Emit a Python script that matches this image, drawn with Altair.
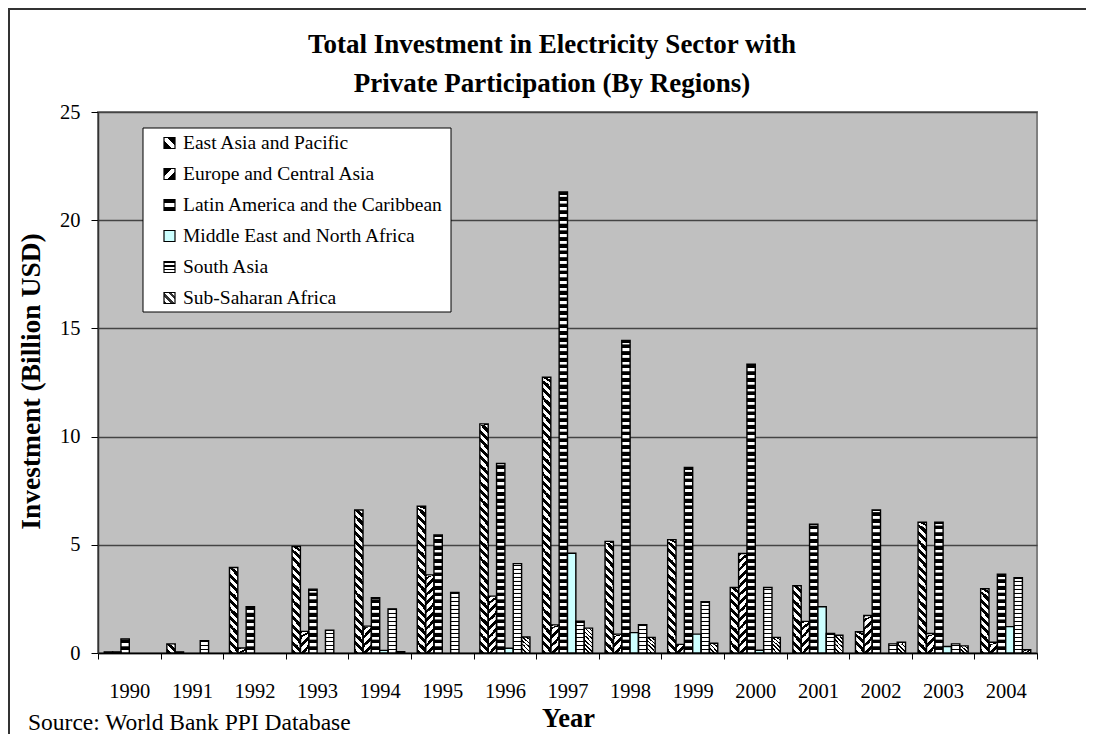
import altair as alt
import pandas as pd

# ---------------- data ----------------
years = [str(y) for y in range(1990, 2005)]
regions = [
    "East Asia and Pacific",
    "Europe and Central Asia",
    "Latin America and the Caribbean",
    "Middle East and North Africa",
    "South Asia",
    "Sub-Saharan Africa",
]
east_asia_pacific = [0.05, 0.42, 3.95, 4.92, 6.61, 6.78, 10.59, 12.74, 5.16, 5.24, 3.03, 3.11, 0.98, 6.04, 2.97]
europe_central_asia = [0.05, 0.05, 0.23, 1.00, 1.24, 3.61, 2.63, 1.30, 0.87, 0.40, 4.60, 1.46, 1.73, 0.90, 0.50]
latin_america_caribbean = [0.65, 0.0, 2.14, 2.95, 2.55, 5.45, 8.76, 21.30, 14.44, 8.57, 13.34, 5.95, 6.61, 6.04, 3.64]
middle_east_north_africa = [0.0, 0.0, 0.0, 0.0, 0.12, 0.0, 0.22, 4.61, 0.94, 0.87, 0.13, 2.14, 0.0, 0.30, 1.22]
south_asia = [0.0, 0.57, 0.0, 1.05, 2.04, 2.80, 4.13, 1.47, 1.31, 2.37, 3.03, 0.90, 0.42, 0.42, 3.48]
sub_saharan_africa = [0.0, 0.0, 0.0, 0.0, 0.06, 0.0, 0.74, 1.15, 0.72, 0.45, 0.72, 0.82, 0.50, 0.33, 0.15]
y_ticks = [0, 5, 10, 15, 20, 25]

title_lines = ["Total Investment in Electricity Sector with", "Private Participation (By Regions)"]
source_note = "Source: World Bank PPI Database"

series = dict(zip(regions, [east_asia_pacific, europe_central_asia, latin_america_caribbean,
                            middle_east_north_africa, south_asia, sub_saharan_africa]))

rows = []
for r in regions:
    for yr, v in zip(years, series[r]):
        rows.append({"year": yr, "region": r, "value": v})
df = pd.DataFrame(rows)
df_nz = df[df["value"] > 0].reset_index(drop=True)

# ---------------- hatch patterns (style) ----------------
FONT = "Liberation Serif"
MENA_FILL = "#CCFFFF"
# repeat height of a hatch tile, in data units
tile = {regions[0]: 0.39, regions[1]: 0.39, regions[2]: 0.31, regions[4]: 0.185, regions[5]: 0.39}


def stripes(n, dark_frac, x1, y1, x2, y2, dark="black", light="white"):
    stops = []
    for i in range(n):
        a = i / n
        b = a + dark_frac / n
        c = (i + 1) / n
        stops += [{"offset": a, "color": dark}, {"offset": b, "color": dark},
                  {"offset": b, "color": light}, {"offset": c, "color": light}]
    return {"gradient": "linear", "x1": x1, "y1": y1, "x2": x2, "y2": y2, "stops": stops}


def band(x1, y1, x2, y2, dark="black", light="white", w=0.35):
    return {"gradient": "linear", "x1": x1, "y1": y1, "x2": x2, "y2": y2,
            "stops": [{"offset": 0, "color": dark}, {"offset": w, "color": dark},
                      {"offset": w, "color": light}, {"offset": 1 - w, "color": light},
                      {"offset": 1 - w, "color": dark}, {"offset": 1, "color": dark}]}


bar_fill = {
    regions[0]: stripes(2, 0.5, 0, 1, 1, 0),          # "\\" wide
    regions[1]: stripes(2, 0.45, 0, 0, 1, 1),         # "//" wide
    regions[2]: stripes(1, 0.6, 0, 0, 0, 1),          # thick horizontal
    regions[4]: stripes(1, 0.4, 0, 0, 0, 1),          # fine horizontal
    regions[5]: stripes(4, 0.4, 0, 1, 1, 0),          # fine "\\"
}
legend_fill = {
    regions[0]: band(0, 1, 1, 0),
    regions[1]: band(0, 0, 1, 1),
    regions[2]: band(0, 0, 0, 1, w=0.33),
    regions[3]: MENA_FILL,
    regions[4]: stripes(3, 0.4, 0, 0, 0, 1),
    regions[5]: stripes(3, 0.45, 0, 1, 1, 0, dark="#333333"),
}

# hatch tiles derived from the values
seg_rows = []
for r, p in tile.items():
    for yr, v in zip(years, series[r]):
        if v <= 0:
            continue
        k = 0
        while k * p < v - 1e-9:
            lo = k * p
            hi = min((k + 1) * p, v)
            hi_draw = min(hi + 0.02, v)
            seg_rows.append({"year": yr, "region": r, "lo": lo, "hi": hi_draw})
            k += 1
seg = pd.DataFrame(seg_rows)

# ---------------- encodings ----------------
x_axis = alt.Axis(
    title="Year", titleFont=FONT, titleFontSize=26.5, titleFontWeight="bold", titleColor="black",
    titleX=470, titleY=73, titleAlign="center", titleBaseline="alphabetic",
    labelAngle=0, labelFont=FONT, labelFontSize=20.5, labelColor="black",
    labelBaseline="alphabetic", labelPadding=38, tickSize=6, tickBand="extent",
    tickColor="black", domainColor="black", domainWidth=1.5, grid=False,
)
y_axis = alt.Axis(
    values=y_ticks, title="Investment (Billion USD)", titleFont=FONT, titleFontSize=27.5,
    titleFontWeight="bold", titleColor="black", titleAngle=270, titleX=-67, titleY=269,
    titleAlign="center", titleBaseline="middle",
    labelFont=FONT, labelFontSize=20.5, labelColor="black", labelPadding=11,
    tickSize=7, tickColor="black", domainColor="#333333", domainWidth=1.5,
    grid=True, gridColor="#444444", gridWidth=1.3,
)
x_enc = alt.X("year:N", sort=years, axis=x_axis,
              scale=alt.Scale(domain=years, paddingInner=0, paddingOuter=0))
xo_enc = alt.XOffset("region:N", sort=regions,
                     scale=alt.Scale(domain=regions, paddingInner=0, paddingOuter=0.75))
y_scale = alt.Scale(domain=[0, 25], nice=False, zero=True)

layers = []
for r, grad in bar_fill.items():
    layers.append(
        alt.Chart(seg).transform_filter(alt.datum.region == r)
        .mark_bar(fill=grad, strokeWidth=0)
        .encode(x=x_enc, xOffset=xo_enc,
                y=alt.Y("lo:Q", scale=y_scale, axis=y_axis), y2=alt.Y2("hi:Q"))
    )

outline = alt.Chart(df_nz).mark_bar(stroke="black", strokeWidth=1.4).encode(
    x=x_enc, xOffset=xo_enc,
    y=alt.Y("value:Q", scale=y_scale, axis=y_axis), y2=alt.datum(0),
    fill=alt.condition(alt.datum.region == regions[3], alt.value(MENA_FILL), alt.value("transparent")),
)
layers.append(outline)

one = pd.DataFrame({"k": [0]})

# legend box (plot-relative pixel layout)
layers.append(alt.Chart(one).mark_rect(fill="white", stroke="black", strokeWidth=1).encode(
    x=alt.value(45), x2=alt.value(353), y=alt.value(16), y2=alt.value(200)))
for i, r in enumerate(regions):
    cy = 31 + 31 * i
    layers.append(alt.Chart(one).mark_rect(fill=legend_fill[r], stroke="black", strokeWidth=1.2).encode(
        x=alt.value(66), x2=alt.value(77), y=alt.value(cy - 5.5), y2=alt.value(cy + 5.5)))
    layers.append(alt.Chart(one).mark_text(text=r, font=FONT, fontSize=19.5, color="black",
                                           align="left", baseline="middle").encode(
        x=alt.value(85), y=alt.value(cy)))

# title lines, source note, outer frame
for j, line in enumerate(title_lines):
    layers.append(alt.Chart(one).mark_text(text=line, font=FONT, fontSize=27, fontWeight="bold",
                                           color="black", align="center", baseline="alphabetic").encode(
        x=alt.value(454), y=alt.value(-59 + 39 * j)))
layers.append(alt.Chart(one).mark_text(text=source_note, font=FONT, fontSize=23.5, color="black",
                                       align="left", baseline="alphabetic").encode(
    x=alt.value(-70), y=alt.value(618)))
layers.append(alt.Chart(one).mark_rect(filled=False, stroke="#333333", strokeWidth=2).encode(
    x=alt.value(-89), x2=alt.value(1100), y=alt.value(-103), y2=alt.value(800)))

chart = alt.layer(*layers).properties(
    width=939, height=541,
    autosize=alt.AutoSizeParams(type="none"),
    padding={"left": 90, "top": 104, "right": 49, "bottom": 81},
).configure(background="white").configure_view(fill="#C0C0C0", stroke="#808080", strokeWidth=2)

chart.save("out.html", embed_options={"renderer": "svg", "actions": False})
